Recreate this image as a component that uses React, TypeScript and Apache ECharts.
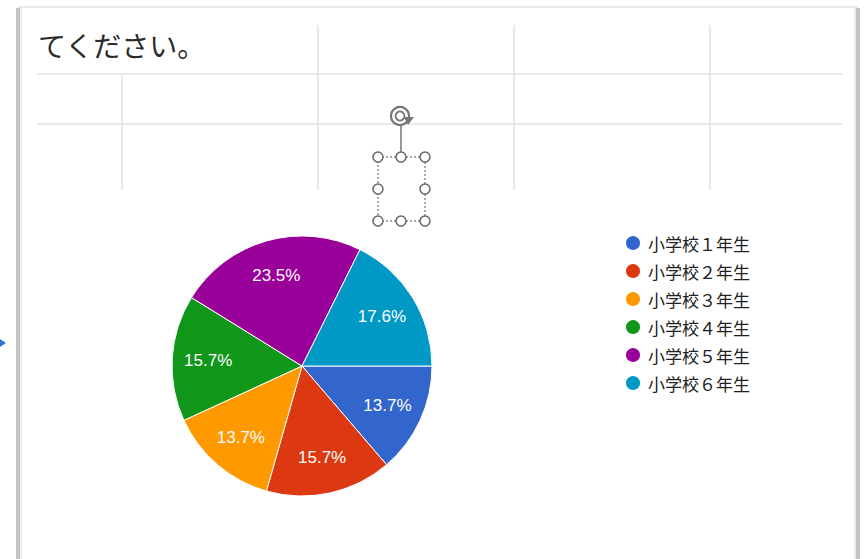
import React, { useEffect, useRef } from "react";
import * as echarts from "echarts";

const categories = ["小学校１年生", "小学校２年生", "小学校３年生", "小学校４年生", "小学校５年生", "小学校６年生"];
const counts = [7, 8, 7, 8, 12, 9];
const colors = ["#3366cc", "#dc3912", "#ff9900", "#109618", "#990099", "#0099c6"];
const titleText = "てください。";

export default function App() {
  const ref = useRef<HTMLDivElement>(null);
  useEffect(() => {
    const chart = echarts.init(ref.current!, null, { renderer: "svg" });
    const data = categories.map((name, i) => ({ name, value: counts[i], itemStyle: { color: colors[i] } }));
    const total = counts.reduce((a, b) => a + b, 0);
    const gridColor = "#e2e2e2";
    const handle = (x: number, y: number) => ({
      type: "circle",
      shape: { cx: x, cy: y, r: 5 },
      style: { fill: "#fff", stroke: "#6f6f6f", lineWidth: 1.6 },
      z: 10,
    });
    chart.setOption({
      animation: false,
      backgroundColor: "#ffffff",
      graphic: [
        // page frame
        { type: "rect", shape: { x: 16, y: 8, width: 4, height: 560 }, style: { fill: "#c4c4c4" } },
        { type: "rect", shape: { x: 20, y: 8, width: 2, height: 560 }, style: { fill: "#ececec" } },
        { type: "rect", shape: { x: 18, y: 6, width: 840, height: 2 }, style: { fill: "#e8e8e8" } },
        { type: "rect", shape: { x: 856, y: 8, width: 4, height: 560 }, style: { fill: "#c4c4c4" } },
        { type: "rect", shape: { x: 854, y: 8, width: 2, height: 560 }, style: { fill: "#ececec" } },
        { type: "polygon", shape: { points: [[0, 339], [6, 343], [0, 347]] }, style: { fill: "#2b78d0" } },
        // title
        {
          type: "text",
          x: 38,
          y: 45,
          style: {
            text: titleText,
            font: "28px 'Noto Sans CJK JP'",
            fill: "#2a2a2a",
            textVerticalAlign: "middle",
          },
        },
        // table lines
        { type: "line", shape: { x1: 37, y1: 74, x2: 842, y2: 74 }, style: { stroke: gridColor, lineWidth: 1.5 } },
        { type: "line", shape: { x1: 37, y1: 124, x2: 842, y2: 124 }, style: { stroke: gridColor, lineWidth: 1.5 } },
        { type: "line", shape: { x1: 122, y1: 74, x2: 122, y2: 190 }, style: { stroke: gridColor, lineWidth: 1.5 } },
        { type: "line", shape: { x1: 318, y1: 25, x2: 318, y2: 190 }, style: { stroke: gridColor, lineWidth: 1.5 } },
        { type: "line", shape: { x1: 514, y1: 25, x2: 514, y2: 190 }, style: { stroke: gridColor, lineWidth: 1.5 } },
        { type: "line", shape: { x1: 710, y1: 25, x2: 710, y2: 190 }, style: { stroke: gridColor, lineWidth: 1.5 } },
        // selection handles
        { type: "rect", shape: { x: 378, y: 157, width: 47, height: 64 }, style: { fill: "none", stroke: "#555", lineWidth: 1, lineDash: [2, 2] }, z: 9 },
        { type: "line", shape: { x1: 401, y1: 124, x2: 401, y2: 152 }, style: { stroke: "#555", lineWidth: 1.2 }, z: 9 },
        { type: "circle", shape: { cx: 400, cy: 116, r: 9 }, style: { fill: "#fff", stroke: "#777", lineWidth: 2.2 }, z: 10 },
        { type: "circle", shape: { cx: 400, cy: 116, r: 4.5 }, style: { fill: "none", stroke: "#777", lineWidth: 1.8 }, z: 10 },
        { type: "polygon", shape: { points: [[404, 117], [414, 117], [408, 125]] }, style: { fill: "#777" }, z: 11 },
        handle(378, 157), handle(401, 157), handle(425, 157),
        handle(378, 189), handle(425, 189),
        handle(378, 221), handle(401, 221), handle(425, 221),
      ],
      legend: {
        orient: "vertical",
        left: 619,
        top: 229,
        icon: "circle",
        itemWidth: 16,
        itemHeight: 16,
        itemGap: 10,
        data: categories,
        textStyle: { fontSize: 17, color: "#222", fontFamily: "'Noto Sans CJK JP'", padding: [0, 0, 0, 2] },
      },
      series: [
        {
          type: "pie",
          center: [302, 366],
          radius: [0, 130],
          startAngle: 0,
          clockwise: true,
          data,
          label: { show: false },
          labelLine: { show: false },
          itemStyle: { borderColor: "#ffffff", borderWidth: 1 },
          emphasis: { disabled: true },
        },
        {
          type: "pie",
          center: [302, 366],
          radius: [52, 130],
          startAngle: 0,
          clockwise: true,
          silent: true,
          data: categories.map((name, i) => ({ name, value: counts[i] })),
          itemStyle: { color: "rgba(0,0,0,0)", borderWidth: 0 },
          label: {
            show: true,
            position: "inside",
            color: "#fff",
            fontSize: 17,
            fontFamily: "'Liberation Sans', Arial",
            formatter: (p: any) => ((p.value / total) * 100).toFixed(1) + "%",
          },
          labelLine: { show: false },
          emphasis: { disabled: true },
          z: 3,
        },
      ],
    });
    return () => chart.dispose();
  }, []);
  return <div ref={ref} style={{ position: "fixed", left: 0, top: 0, width: 866, height: 559 }} />;
}
